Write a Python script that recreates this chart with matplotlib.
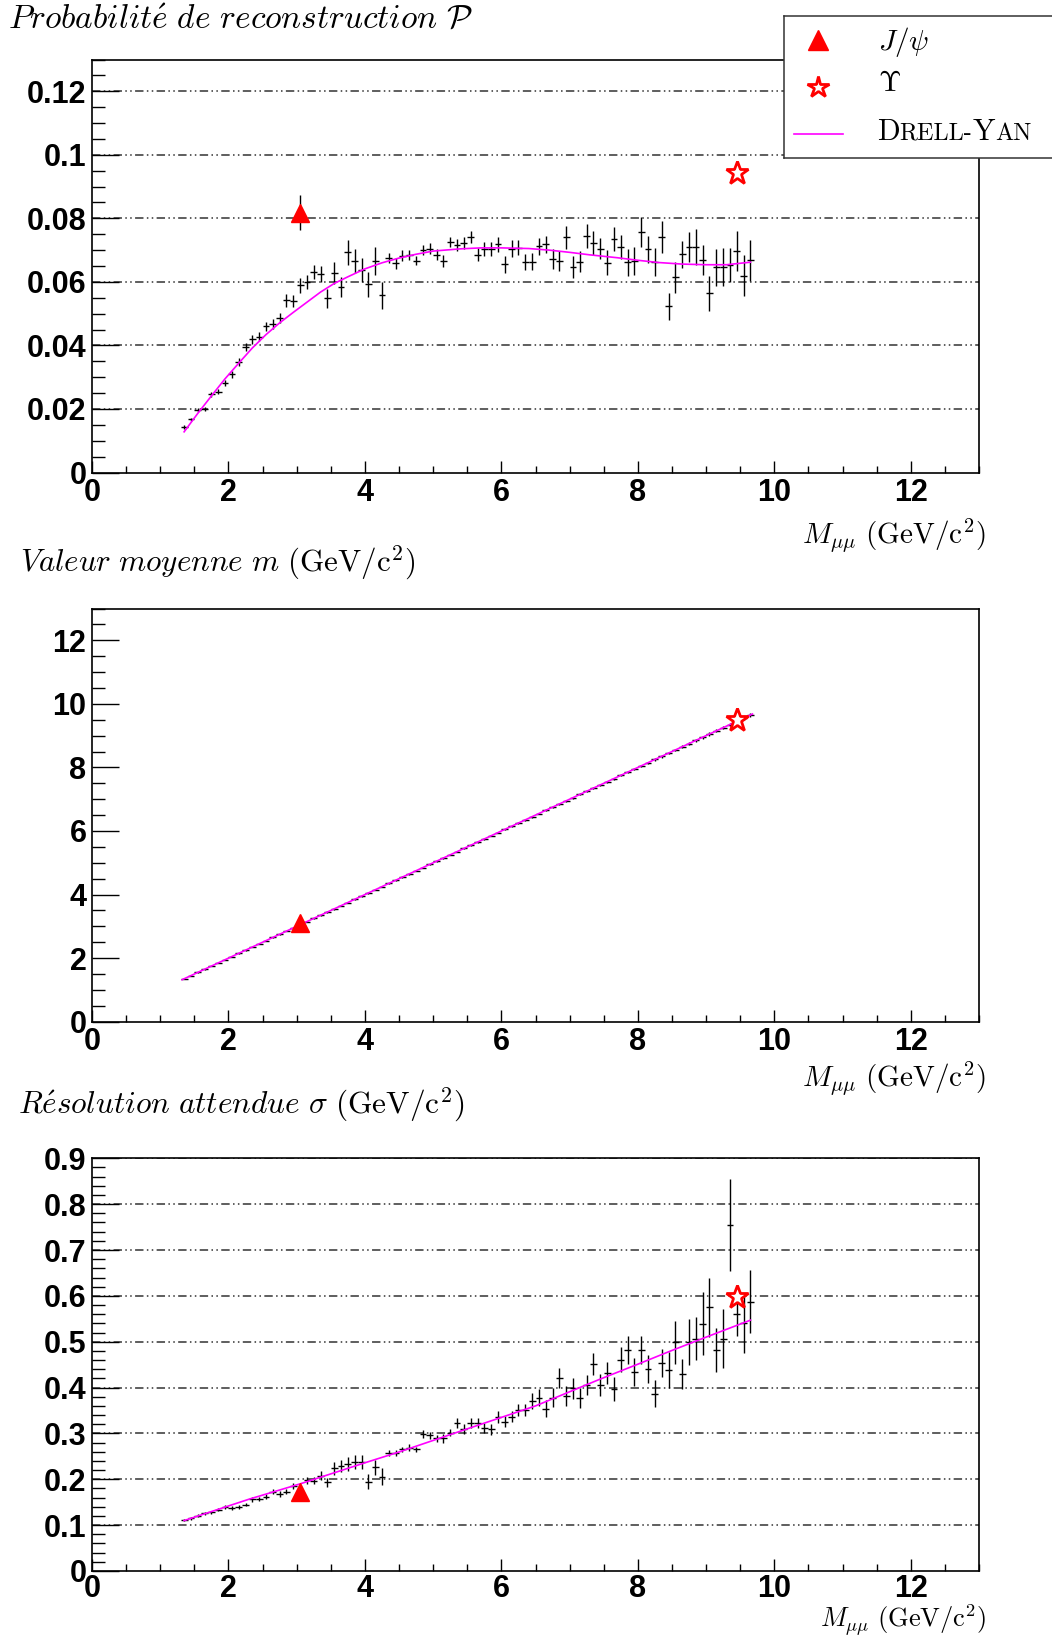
import matplotlib
matplotlib.use("Agg")
import matplotlib.pyplot as plt
from matplotlib.ticker import MultipleLocator, FuncFormatter

plt.rcParams['mathtext.fontset'] = 'cm'

# ---------------- data ----------------
mass = [1.35, 1.45, 1.55, 1.65, 1.75, 1.85, 1.95, 2.05, 2.15, 2.25,
        2.35, 2.45, 2.55, 2.65, 2.75, 2.85, 2.95, 3.05, 3.15, 3.25,
        3.35, 3.45, 3.55, 3.65, 3.75, 3.85, 3.95, 4.05, 4.15, 4.25,
        4.35, 4.45, 4.55, 4.65, 4.75, 4.85, 4.95, 5.05, 5.15, 5.25,
        5.35, 5.45, 5.55, 5.65, 5.75, 5.85, 5.95, 6.05, 6.15, 6.25,
        6.35, 6.45, 6.55, 6.65, 6.75, 6.85, 6.95, 7.05, 7.15, 7.25,
        7.35, 7.45, 7.55, 7.65, 7.75, 7.85, 7.95, 8.05, 8.15, 8.25,
        8.35, 8.45, 8.55, 8.65, 8.75, 8.85, 8.95, 9.05, 9.15, 9.25,
        9.35, 9.45, 9.55, 9.65]
mass_halfwidth = 0.05

prob = [0.0143, 0.0167, 0.0197, 0.0200, 0.0246, 0.0254, 0.0282, 0.0309, 0.0347, 0.0394,
        0.0419, 0.0428, 0.0460, 0.0468, 0.0487, 0.0542, 0.0540, 0.0589, 0.0600, 0.0631,
        0.0625, 0.0548, 0.0629, 0.0583, 0.0693, 0.0666, 0.0637, 0.0592, 0.0666, 0.0558,
        0.0676, 0.0658, 0.0683, 0.0684, 0.0667, 0.0700, 0.0704, 0.0686, 0.0665, 0.0726,
        0.0717, 0.0722, 0.0741, 0.0686, 0.0703, 0.0704, 0.0718, 0.0655, 0.0705, 0.0708,
        0.0663, 0.0664, 0.0712, 0.0718, 0.0671, 0.0665, 0.0740, 0.0647, 0.0664, 0.0744,
        0.0723, 0.0705, 0.0661, 0.0735, 0.0711, 0.0662, 0.0665, 0.0757, 0.0703, 0.0662,
        0.0742, 0.0523, 0.0614, 0.0687, 0.0709, 0.0710, 0.0668, 0.0564, 0.0646, 0.0646,
        0.0653, 0.0696, 0.0619, 0.0668]
prob_err = [0.0005, 0.0006, 0.0007, 0.0007, 0.0008, 0.0008, 0.0010, 0.0010, 0.0013, 0.0013,
            0.0014, 0.0014, 0.0015, 0.0015, 0.0015, 0.0021, 0.0019, 0.0023, 0.0023, 0.0023,
            0.0026, 0.0030, 0.0035, 0.0032, 0.0039, 0.0037, 0.0038, 0.0040, 0.0044, 0.0043,
            0.0016, 0.0016, 0.0016, 0.0016, 0.0014, 0.0015, 0.0017, 0.0017, 0.0019, 0.0015,
            0.0019, 0.0019, 0.0019, 0.0021, 0.0021, 0.0023, 0.0023, 0.0026, 0.0026, 0.0023,
            0.0026, 0.0027, 0.0026, 0.0027, 0.0032, 0.0032, 0.0035, 0.0035, 0.0032, 0.0037,
            0.0037, 0.0032, 0.0038, 0.0038, 0.0038, 0.0042, 0.0044, 0.0047, 0.0042, 0.0044,
            0.0050, 0.0042, 0.0050, 0.0042, 0.0047, 0.0058, 0.0047, 0.0055, 0.0059, 0.0060,
            0.0053, 0.0063, 0.0065, 0.0065]

mean = [1.35, 1.45, 1.55, 1.65, 1.75, 1.85, 1.95, 2.05, 2.15, 2.25,
        2.35, 2.45, 2.55, 2.65, 2.75, 2.85, 2.95, 3.05, 3.15, 3.25,
        3.35, 3.45, 3.55, 3.65, 3.75, 3.85, 3.95, 4.05, 4.15, 4.25,
        4.35, 4.45, 4.55, 4.65, 4.75, 4.85, 4.95, 5.05, 5.15, 5.25,
        5.35, 5.45, 5.55, 5.65, 5.75, 5.85, 5.95, 6.05, 6.15, 6.25,
        6.35, 6.45, 6.55, 6.65, 6.75, 6.85, 6.95, 7.05, 7.15, 7.25,
        7.35, 7.45, 7.55, 7.65, 7.75, 7.85, 7.95, 8.05, 8.14, 8.25,
        8.35, 8.45, 8.55, 8.65, 8.75, 8.85, 8.95, 9.05, 9.15, 9.25,
        9.35, 9.45, 9.55, 9.65]
mean_err = [0.01, 0.01, 0.01, 0.01, 0.01, 0.01, 0.01, 0.01, 0.01, 0.01,
            0.01, 0.01, 0.01, 0.01, 0.01, 0.01, 0.01, 0.01, 0.01, 0.01,
            0.02, 0.02, 0.02, 0.02, 0.02, 0.02, 0.02, 0.02, 0.02, 0.02,
            0.02, 0.02, 0.02, 0.02, 0.02, 0.02, 0.02, 0.02, 0.02, 0.02,
            0.02, 0.02, 0.02, 0.02, 0.02, 0.02, 0.02, 0.02, 0.02, 0.02,
            0.03, 0.03, 0.03, 0.03, 0.03, 0.03, 0.03, 0.03, 0.03, 0.03,
            0.03, 0.03, 0.03, 0.03, 0.03, 0.03, 0.03, 0.04, 0.04, 0.04,
            0.04, 0.04, 0.04, 0.04, 0.04, 0.05, 0.05, 0.05, 0.05, 0.05,
            0.05, 0.05, 0.05, 0.05]

sigma = [0.111, 0.115, 0.121, 0.126, 0.128, 0.134, 0.140, 0.137, 0.139, 0.145,
         0.156, 0.157, 0.162, 0.173, 0.168, 0.173, 0.185, 0.170, 0.198, 0.197,
         0.208, 0.193, 0.224, 0.229, 0.233, 0.237, 0.238, 0.195, 0.226, 0.206,
         0.257, 0.257, 0.265, 0.269, 0.265, 0.299, 0.296, 0.289, 0.289, 0.302,
         0.322, 0.310, 0.322, 0.322, 0.311, 0.309, 0.336, 0.326, 0.336, 0.351,
         0.351, 0.371, 0.378, 0.354, 0.378, 0.420, 0.382, 0.398, 0.378, 0.406,
         0.451, 0.405, 0.432, 0.397, 0.461, 0.482, 0.434, 0.482, 0.441, 0.387,
         0.453, 0.438, 0.499, 0.430, 0.499, 0.507, 0.539, 0.575, 0.482, 0.507,
         0.755, 0.560, 0.540, 0.587]
sigma_err = [0.003, 0.003, 0.003, 0.003, 0.003, 0.004, 0.004, 0.004, 0.004, 0.004,
             0.005, 0.005, 0.006, 0.006, 0.006, 0.006, 0.007, 0.007, 0.008, 0.008,
             0.010, 0.010, 0.014, 0.014, 0.015, 0.015, 0.016, 0.016, 0.017, 0.018,
             0.006, 0.006, 0.006, 0.007, 0.006, 0.008, 0.008, 0.008, 0.009, 0.008,
             0.011, 0.011, 0.011, 0.011, 0.011, 0.012, 0.013, 0.013, 0.012, 0.013,
             0.013, 0.018, 0.018, 0.018, 0.020, 0.022, 0.022, 0.022, 0.022, 0.022,
             0.024, 0.024, 0.024, 0.026, 0.028, 0.030, 0.030, 0.030, 0.030, 0.030,
             0.031, 0.040, 0.047, 0.033, 0.050, 0.047, 0.069, 0.065, 0.047, 0.065,
             0.100, 0.047, 0.065, 0.069]

# Drell-Yan curves
dy_prob_x = [1.35, 1.55, 1.75, 1.95, 2.15, 2.35, 2.55, 2.75, 2.95, 3.15, 3.35, 3.55,
             3.75, 4.0, 4.25, 4.5, 4.75, 5.0, 5.4, 5.7, 6.0, 6.4, 6.7, 7.0, 7.3,
             7.7, 8.0, 8.3, 8.65, 9.0, 9.3, 9.65]
dy_prob_y = [0.0128, 0.0186, 0.0241, 0.0295, 0.0344, 0.0392, 0.0434, 0.0471, 0.0504,
             0.0536, 0.0568, 0.0595, 0.0616, 0.0641, 0.0660, 0.0675, 0.0687, 0.0697,
             0.0704, 0.0707, 0.0707, 0.0705, 0.0700, 0.0693, 0.0685, 0.0676, 0.0668,
             0.0661, 0.0656, 0.0654, 0.0654, 0.0662]
dy_mean_x = [1.32, 3.0, 5.0, 7.0, 9.68]
dy_mean_y = [1.32, 3.0, 5.0, 7.0, 9.68]
dy_sigma_x = [1.35, 2.31, 3.05, 4.0, 4.51, 5.5, 6.5, 7.44, 8.0, 8.5, 9.0, 9.65]
dy_sigma_y = [0.110, 0.157, 0.190, 0.236, 0.260, 0.310, 0.360, 0.418, 0.451, 0.481, 0.510, 0.547]

jpsi_mass = 3.05
upsilon_mass = 9.45
jpsi_prob, jpsi_prob_err, upsilon_prob = 0.0818, 0.0055, 0.0942
jpsi_mean, upsilon_mean = 3.10, 9.50
jpsi_sigma, upsilon_sigma = 0.173, 0.598

x_ticks = [0, 2, 4, 6, 8, 10, 12]

# ---------------- figure ----------------
W, H = 1052, 1639
fig = plt.figure(figsize=(W / 100, H / 100), dpi=100)
fig.patch.set_facecolor('white')

RED = '#ff0000'
MAG = '#ff00ff'
GRID_STYLE = (0, (5.5, 2.2, 1.0, 2.2, 1.0, 2.2))
TICKFONT = dict(family='Liberation Sans', weight='bold', size=22)


def px_axes(top, bottom):
    left, right = 92, 979
    return fig.add_axes([left / W, 1 - bottom / H, (right - left) / W, (bottom - top) / H])


def style(ax, ymax, yticks, yminor, grid, xpad=4):
    ax.set_xlim(0, 13)
    ax.set_ylim(0, ymax)
    ax.set_xticks(x_ticks)
    ax.xaxis.set_minor_locator(MultipleLocator(0.5))
    ax.set_yticks(yticks)
    ax.yaxis.set_minor_locator(MultipleLocator(yminor))
    ax.yaxis.set_major_formatter(FuncFormatter(lambda v, p: '0' if abs(v) < 1e-12 else '%g' % v))
    ax.xaxis.set_major_formatter(FuncFormatter(lambda v, p: '%d' % round(v)))
    ax.tick_params(which='both', direction='in', top=False, right=False, width=1.0, color='black')
    ax.tick_params(axis='y', which='major', length=19.4, pad=4)
    ax.tick_params(axis='y', which='minor', length=9.4)
    ax.tick_params(axis='x', which='major', length=8.9, pad=xpad)
    ax.tick_params(axis='x', which='minor', length=4.8)
    for lab in ax.get_xticklabels() + ax.get_yticklabels():
        lab.set_fontfamily(TICKFONT['family'])
        lab.set_fontweight(TICKFONT['weight'])
        lab.set_fontsize(TICKFONT['size'])
    for s in ax.spines.values():
        s.set_linewidth(1.2)
        s.set_color('black')
    if grid:
        for yv in yticks[1:]:
            ax.axhline(yv, color='#333333', lw=1.1, ls=GRID_STYLE, zorder=1)


def ftext(x, y, s, va='baseline', **kw):
    return fig.text(x / W, 1 - y / H, s, va=va, **kw)


XLABEL = r'$M_{\mu\mu}\ (\mathrm{GeV}/\mathrm{c}^{2})$'

# ---- panel 1 ----
ax1 = px_axes(59.5, 472.5)
style(ax1, 0.13, [0, 0.02, 0.04, 0.06, 0.08, 0.10, 0.12], 0.005, True)
ax1.errorbar(mass, prob, xerr=mass_halfwidth, yerr=prob_err, fmt='none',
             ecolor='black', elinewidth=1.0, capsize=0, zorder=3)
ax1.plot(dy_prob_x, dy_prob_y, color=MAG, lw=1.2, zorder=4)
ax1.errorbar([jpsi_mass], [jpsi_prob], yerr=[jpsi_prob_err], fmt='^', color=RED, ms=13,
             ecolor='black', elinewidth=1.0, capsize=0, zorder=5)
ax1.plot([upsilon_mass], [upsilon_prob], marker='*', ms=17, mfc='white', mec=RED, mew=2.0,
         ls='none', zorder=5)
ftext(8, 29, r'$\mathit{Probabilit\acute{e}\ de\ reconstruction}\ \mathcal{P}$', fontsize=24)
ftext(986, 543, XLABEL, fontsize=21, ha='right')

# ---- panel 2 ----
ax2 = px_axes(608.5, 1021.7)
style(ax2, 13, [0, 2, 4, 6, 8, 10, 12], 0.5, False)
ax2.errorbar(mass, mean, xerr=mass_halfwidth, yerr=mean_err, fmt='none',
             ecolor='black', elinewidth=1.0, capsize=0, zorder=3)
ax2.plot(dy_mean_x, dy_mean_y, color=MAG, lw=1.2, zorder=4)
ax2.plot([jpsi_mass], [jpsi_mean], marker='^', ms=13, color=RED, ls='none', zorder=5)
ax2.plot([upsilon_mass], [upsilon_mean], marker='*', ms=17, mfc='white', mec=RED, mew=2.0,
         ls='none', zorder=5)
ftext(20, 571, r'$\mathit{Valeur\ moyenne}\ m\ (\mathrm{GeV}/\mathrm{c}^{2})$', fontsize=22.3)
ftext(986, 1086, XLABEL, fontsize=21, ha='right')

# ---- panel 3 ----
ax3 = px_axes(1158.3, 1571)
style(ax3, 0.9, [0, 0.1, 0.2, 0.3, 0.4, 0.5, 0.6, 0.7, 0.8, 0.9], 0.02, True, xpad=2.5)
ax3.errorbar(mass, sigma, xerr=mass_halfwidth, yerr=sigma_err, fmt='none',
             ecolor='black', elinewidth=1.0, capsize=0, zorder=3)
ax3.plot(dy_sigma_x, dy_sigma_y, color=MAG, lw=1.2, zorder=4)
ax3.plot([jpsi_mass], [jpsi_sigma], marker='^', ms=13, color=RED, ls='none', zorder=5)
ax3.plot([upsilon_mass], [upsilon_sigma], marker='*', ms=17, mfc='white', mec=RED, mew=2.0,
         ls='none', zorder=5)
ftext(18, 1113, r'$\mathit{R\acute{e}solution\ attendue}\ \sigma\ (\mathrm{GeV}/\mathrm{c}^{2})$',
      fontsize=22.5)
ftext(986, 1638.5, XLABEL, va='bottom', fontsize=19, ha='right')

# ---- legend (box in figure pixels) ----
L, T, B, R = 784, 16, 158, 1100
leg = fig.add_axes([L / W, 1 - B / H, (R - L) / W, (B - T) / H])
leg.set_zorder(10)
leg.set_xlim(L, R)
leg.set_ylim(B, T)
leg.set_xticks([])
leg.set_yticks([])
leg.set_facecolor('white')
for s in leg.spines.values():
    s.set_linewidth(1.1)
    s.set_color('#333333')
leg.plot([818], [40], marker='^', ms=14, color=RED, ls='none', clip_on=False)
leg.plot([818], [87], marker='*', ms=16, mfc='white', mec=RED, mew=2.0, ls='none', clip_on=False)
leg.plot([794, 843], [134, 134], color=MAG, lw=1.2)
leg.text(878, 50, r'$J/\psi$', fontsize=21, va='baseline')
leg.text(878, 91, r'$\Upsilon$', fontsize=21, va='baseline')

fig.canvas.draw()
renderer = fig.canvas.get_renderer()
xpos = 877
for piece, size in [('D', 21.5), ('RELL-', 17.5), ('Y', 21.5), ('AN', 17.5)]:
    t = leg.text(xpos, 140, piece, fontsize=size, fontfamily='cmr10', va='baseline')
    bb = t.get_window_extent(renderer)
    xpos += bb.width

fig.savefig('out.png', dpi=100, facecolor='white')
